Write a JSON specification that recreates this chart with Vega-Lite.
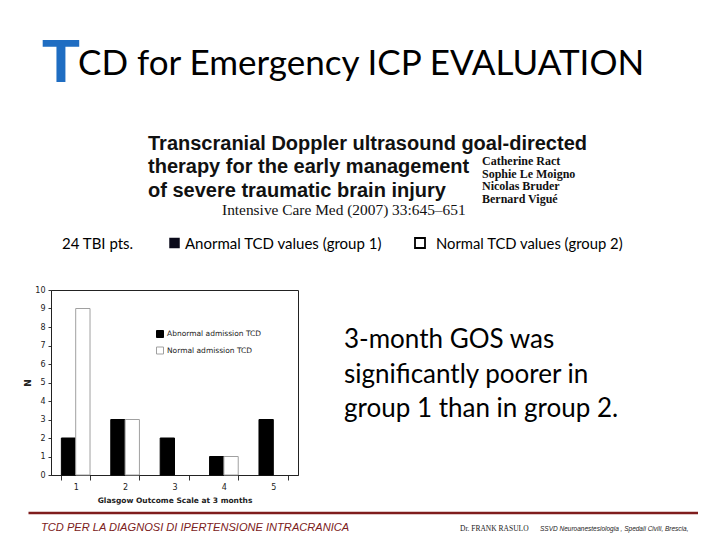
{
  "$schema": "https://vega.github.io/schema/vega-lite/v6.json",
  "width": 247,
  "height": 185,
  "autosize": {"type": "none"},
  "padding": {"left": 51, "top": 290, "right": 422, "bottom": 65},
  "background": "white",
  "config": {"view": {"stroke": "#222", "strokeWidth": 1}, "font": "DejaVu Sans"},
  "resolve": {"scale": {"x": "independent", "y": "independent"}},
  "layer": [
    {
      "data": {"values": [
        {"gos": 1, "group": "Abnormal admission TCD", "n": 2},
        {"gos": 1, "group": "Normal admission TCD", "n": 9},
        {"gos": 2, "group": "Abnormal admission TCD", "n": 3},
        {"gos": 2, "group": "Normal admission TCD", "n": 3},
        {"gos": 3, "group": "Abnormal admission TCD", "n": 2},
        {"gos": 3, "group": "Normal admission TCD", "n": 0},
        {"gos": 4, "group": "Abnormal admission TCD", "n": 1},
        {"gos": 4, "group": "Normal admission TCD", "n": 1},
        {"gos": 5, "group": "Abnormal admission TCD", "n": 3},
        {"gos": 5, "group": "Normal admission TCD", "n": 0}
      ]},
      "transform": [{"filter": "datum.n > 0"}],
      "mark": {"type": "bar", "strokeWidth": 1},
      "encoding": {
        "x": {"field": "gos", "type": "ordinal",
          "scale": {"domain": [1, 2, 3, 4, 5], "paddingInner": 0.42, "paddingOuter": 0.21},
          "axis": {"title": "Glasgow Outcome Scale at 3 months", "labelAngle": 0, "tickBand": "extent",
            "tickSize": 5, "labelPadding": 3, "labelFontSize": 8, "labelColor": "#222", "tickColor": "#333",
            "domainColor": "#222", "titleFontSize": 7.5, "titleFontWeight": "bold", "titleColor": "#222", "titlePadding": 5}},
        "xOffset": {"field": "group", "type": "nominal", "sort": ["Abnormal admission TCD", "Normal admission TCD"]},
        "y": {"field": "n", "type": "quantitative", "scale": {"domain": [0, 10], "nice": false},
          "axis": {"title": "N", "values": [0,1,2,3,4,5,6,7,8,9,10], "grid": false, "tickSize": 3, "labelPadding": 3,
            "labelFontSize": 8, "labelColor": "#222", "tickColor": "#333", "domainColor": "#222",
            "titleFontSize": 9, "titleFontWeight": "bold", "titleColor": "#222", "titlePadding": 2}},
        "fill": {"field": "group", "type": "nominal",
          "scale": {"domain": ["Abnormal admission TCD", "Normal admission TCD"], "range": ["#000000", "#ffffff"]},
          "legend": {"title": null, "orient": "none", "legendX": 105, "legendY": 40, "padding": 0,
            "symbolType": "square", "symbolSize": 49, "symbolStrokeWidth": 1, "labelFontSize": 7.5,
            "labelColor": "#222", "rowPadding": 4.5, "labelOffset": 3}},
        "stroke": {"field": "group", "type": "nominal",
          "scale": {"domain": ["Abnormal admission TCD", "Normal admission TCD"], "range": ["#000000", "#a0a0a0"]},
          "legend": {"title": null, "orient": "none", "legendX": 105, "legendY": 40, "padding": 0,
            "symbolType": "square", "symbolSize": 49, "symbolStrokeWidth": 1, "labelFontSize": 7.5,
            "labelColor": "#222", "rowPadding": 4.5, "labelOffset": 3}}
      }
    },
    {
      "data": {"values": [{"block": "big T", "line": 1, "text": "T"}]},
      "mark": {"type": "text", "align": "left", "baseline": "alphabetic", "font": "Liberation Sans", "fontWeight": "bold", "fontSize": 62, "color": "#1f6dc2"},
      "encoding": {
        "x": {"field": "block", "type": "nominal", "scale": {"type": "point", "range": [-9, -9]}, "axis": null},
        "y": {"field": "line", "type": "ordinal", "scale": {"type": "point", "padding": 0, "range": [-208, -208]}, "axis": null},
        "text": {"field": "text"}
      }
    },
    {
      "data": {"values": [{"block": "title", "line": 1, "text": "CD for Emergency ICP EVALUATION"}]},
      "mark": {"type": "text", "align": "left", "baseline": "alphabetic", "font": "Lato", "fontSize": 35, "color": "#000000"},
      "encoding": {
        "x": {"field": "block", "type": "nominal", "scale": {"type": "point", "range": [27, 27]}, "axis": null},
        "y": {"field": "line", "type": "ordinal", "scale": {"type": "point", "padding": 0, "range": [-215, -215]}, "axis": null},
        "text": {"field": "text"}
      }
    },
    {
      "data": {"values": [
        {"block": "paper title", "line": 1, "text": "Transcranial Doppler ultrasound goal-directed"},
        {"block": "paper title", "line": 2, "text": "therapy for the early management"},
        {"block": "paper title", "line": 3, "text": "of severe traumatic brain injury"}
      ]},
      "mark": {"type": "text", "align": "left", "baseline": "alphabetic", "font": "Liberation Sans", "fontWeight": "bold", "fontSize": 20, "color": "#111111"},
      "encoding": {
        "x": {"field": "block", "type": "nominal", "scale": {"type": "point", "range": [97, 97]}, "axis": null},
        "y": {"field": "line", "type": "ordinal", "scale": {"type": "point", "padding": 0, "range": [-140.3, -93.5]}, "axis": null},
        "text": {"field": "text"}
      }
    },
    {
      "data": {"values": [{"block": "journal", "line": 1, "text": "Intensive Care Med (2007) 33:645–651"}]},
      "mark": {"type": "text", "align": "left", "baseline": "alphabetic", "font": "Liberation Serif", "fontSize": 15.4, "color": "#111111"},
      "encoding": {
        "x": {"field": "block", "type": "nominal", "scale": {"type": "point", "range": [171, 171]}, "axis": null},
        "y": {"field": "line", "type": "ordinal", "scale": {"type": "point", "padding": 0, "range": [-75, -75]}, "axis": null},
        "text": {"field": "text"}
      }
    },
    {
      "data": {"values": [
        {"block": "authors", "line": 1, "text": "Catherine Ract"},
        {"block": "authors", "line": 2, "text": "Sophie Le Moigno"},
        {"block": "authors", "line": 3, "text": "Nicolas Bruder"},
        {"block": "authors", "line": 4, "text": "Bernard Vigué"}
      ]},
      "mark": {"type": "text", "align": "left", "baseline": "alphabetic", "font": "Liberation Serif", "fontWeight": "bold", "fontSize": 12, "color": "#111111"},
      "encoding": {
        "x": {"field": "block", "type": "nominal", "scale": {"type": "point", "range": [431, 431]}, "axis": null},
        "y": {"field": "line", "type": "ordinal", "scale": {"type": "point", "padding": 0, "range": [-125, -87]}, "axis": null},
        "text": {"field": "text"}
      }
    },
    {
      "data": {"values": [{"block": "patients", "line": 1, "text": "24 TBI pts."}]},
      "mark": {"type": "text", "align": "left", "baseline": "alphabetic", "font": "Lato", "fontSize": 15, "color": "#000000"},
      "encoding": {
        "x": {"field": "block", "type": "nominal", "scale": {"type": "point", "range": [11, 11]}, "axis": null},
        "y": {"field": "line", "type": "ordinal", "scale": {"type": "point", "padding": 0, "range": [-41.5, -41.5]}, "axis": null},
        "text": {"field": "text"}
      }
    },
    {
      "data": {"values": [{"block": "group 1 key", "line": 1}]},
      "mark": {"type": "point", "shape": "square", "filled": true, "size": 110, "color": "#0a0a1a", "opacity": 1},
      "encoding": {
        "x": {"field": "block", "type": "nominal", "scale": {"type": "point", "range": [123.5, 123.5]}, "axis": null},
        "y": {"field": "line", "type": "ordinal", "scale": {"type": "point", "padding": 0, "range": [-47, -47]}, "axis": null}
      }
    },
    {
      "data": {"values": [{"block": "group 1", "line": 1, "text": "Anormal TCD values (group 1)"}]},
      "mark": {"type": "text", "align": "left", "baseline": "alphabetic", "font": "Lato", "fontSize": 15, "color": "#000000"},
      "encoding": {
        "x": {"field": "block", "type": "nominal", "scale": {"type": "point", "range": [134, 134]}, "axis": null},
        "y": {"field": "line", "type": "ordinal", "scale": {"type": "point", "padding": 0, "range": [-41.5, -41.5]}, "axis": null},
        "text": {"field": "text"}
      }
    },
    {
      "data": {"values": [{"block": "group 2 key", "line": 1}]},
      "mark": {"type": "point", "shape": "square", "filled": true, "size": 100, "fill": "#ffffff", "stroke": "#000000", "strokeWidth": 1.8, "opacity": 1},
      "encoding": {
        "x": {"field": "block", "type": "nominal", "scale": {"type": "point", "range": [369, 369]}, "axis": null},
        "y": {"field": "line", "type": "ordinal", "scale": {"type": "point", "padding": 0, "range": [-47, -47]}, "axis": null}
      }
    },
    {
      "data": {"values": [{"block": "group 2", "line": 1, "text": "Normal TCD values (group 2)"}]},
      "mark": {"type": "text", "align": "left", "baseline": "alphabetic", "font": "Lato", "fontSize": 14.8, "color": "#000000"},
      "encoding": {
        "x": {"field": "block", "type": "nominal", "scale": {"type": "point", "range": [385, 385]}, "axis": null},
        "y": {"field": "line", "type": "ordinal", "scale": {"type": "point", "padding": 0, "range": [-41.5, -41.5]}, "axis": null},
        "text": {"field": "text"}
      }
    },
    {
      "data": {"values": [
        {"block": "finding", "line": 1, "text": "3-month GOS was"},
        {"block": "finding", "line": 2, "text": "significantly poorer in"},
        {"block": "finding", "line": 3, "text": "group 1 than in group 2."}
      ]},
      "mark": {"type": "text", "align": "left", "baseline": "alphabetic", "font": "Lato", "fontSize": 26, "color": "#000000"},
      "encoding": {
        "x": {"field": "block", "type": "nominal", "scale": {"type": "point", "range": [293, 293]}, "axis": null},
        "y": {"field": "line", "type": "ordinal", "scale": {"type": "point", "padding": 0, "range": [58.3, 126.7]}, "axis": null},
        "text": {"field": "text"}
      }
    },
    {
      "data": {"values": [{"item": "footer rule"}]},
      "mark": {"type": "rule", "color": "#7f1d1d", "strokeWidth": 2.5},
      "encoding": {
        "x": {"datum": "left", "type": "nominal", "scale": {"type": "point", "padding": 0, "domain": ["left", "right"], "range": [-22.5, 647]}, "axis": null},
        "x2": {"datum": "right"},
        "y": {"datum": "footer", "type": "nominal", "scale": {"type": "point", "padding": 0, "range": [223, 223]}, "axis": null}
      }
    },
    {
      "data": {"values": [{"block": "footer", "line": 1, "text": "TCD PER LA DIAGNOSI DI  IPERTENSIONE INTRACRANICA"}]},
      "mark": {"type": "text", "align": "left", "baseline": "alphabetic", "font": "Liberation Sans", "fontStyle": "italic", "fontSize": 11.1, "color": "#7b2020"},
      "encoding": {
        "x": {"field": "block", "type": "nominal", "scale": {"type": "point", "range": [-10, -10]}, "axis": null},
        "y": {"field": "line", "type": "ordinal", "scale": {"type": "point", "padding": 0, "range": [241, 241]}, "axis": null},
        "text": {"field": "text"}
      }
    },
    {
      "data": {"values": [{"block": "author footer", "line": 1, "text": "Dr. FRANK RASULO"}]},
      "mark": {"type": "text", "align": "left", "baseline": "alphabetic", "font": "Liberation Serif", "fontSize": 7.5, "color": "#222222"},
      "encoding": {
        "x": {"field": "block", "type": "nominal", "scale": {"type": "point", "range": [409, 409]}, "axis": null},
        "y": {"field": "line", "type": "ordinal", "scale": {"type": "point", "padding": 0, "range": [241, 241]}, "axis": null},
        "text": {"field": "text"}
      }
    },
    {
      "data": {"values": [{"block": "department", "line": 1, "text": "SSVD Neuroanestesiologia , Spedali Civili, Brescia,"}]},
      "mark": {"type": "text", "align": "left", "baseline": "alphabetic", "font": "Liberation Sans", "fontStyle": "italic", "fontSize": 6.5, "color": "#222222"},
      "encoding": {
        "x": {"field": "block", "type": "nominal", "scale": {"type": "point", "range": [489, 489]}, "axis": null},
        "y": {"field": "line", "type": "ordinal", "scale": {"type": "point", "padding": 0, "range": [241, 241]}, "axis": null},
        "text": {"field": "text"}
      }
    }
  ]
}
